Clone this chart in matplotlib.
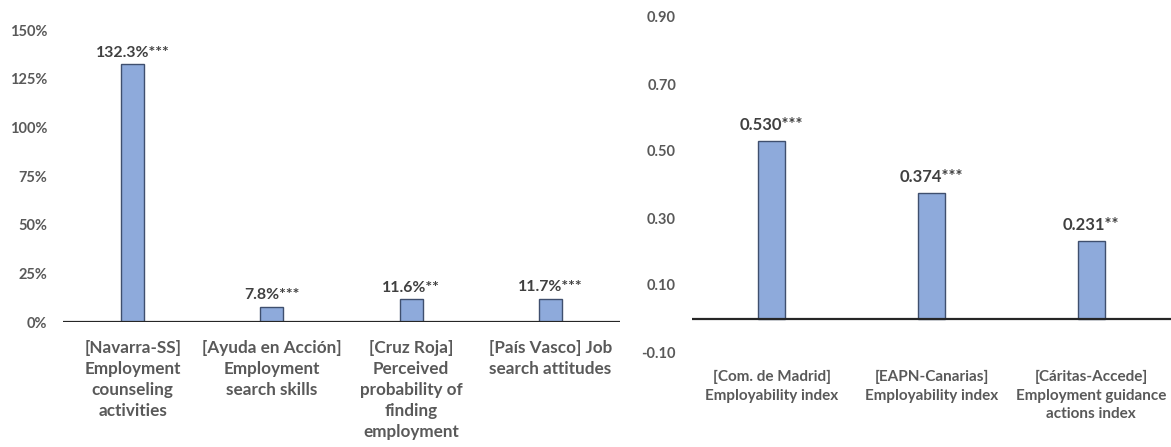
import matplotlib
matplotlib.use("Agg")
import matplotlib.pyplot as plt
import numpy as np

# left panel: percentage effects
left_categories = [
    "[Navarra-SS]\nEmployment\ncounseling\nactivities",
    "[Ayuda en Acción]\nEmployment\nsearch skills",
    "[Cruz Roja]\nPerceived\nprobability of\nfinding\nemployment",
    "[País Vasco] Job\nsearch attitudes",
]
left_values = [132.3, 7.8, 11.6, 11.7]
left_stars = ["***", "***", "**", "***"]
left_ticks = [0, 25, 50, 75, 100, 125, 150]

# right panel: index effects
right_categories = [
    "[Com. de Madrid]\nEmployability index",
    "[EAPN-Canarias]\nEmployability index",
    "[Cáritas-Accede]\nEmployment guidance\nactions index",
]
right_values = [0.530, 0.374, 0.231]
right_stars = ["***", "***", "**"]
right_ticks = [-0.10, 0.10, 0.30, 0.50, 0.70, 0.90]

plt.rcParams["font.family"] = ["Lato", "DejaVu Sans"]
plt.rcParams["font.weight"] = "bold"

BAR_COLOR = "#8eaadb"
EDGE_COLOR = "#3f4f6e"
TEXT_COLOR = "#595959"
LABEL_COLOR = "#404040"
TICK_FS = 10.5

fig = plt.figure(figsize=(11.71, 4.47), dpi=100)

W, H = 1171, 447


def add_axes(x0, x1, y_top, y_bottom):
    return fig.add_axes([x0 / W, (H - y_bottom) / H, (x1 - x0) / W, (y_bottom - y_top) / H])


def style(ax):
    for s in ax.spines.values():
        s.set_visible(False)
    ax.tick_params(axis="both", length=0, colors=TEXT_COLOR)
    ax.tick_params(axis="y", labelsize=TICK_FS, pad=11.5)
    for lab in ax.get_yticklabels() + ax.get_xticklabels():
        lab.set_fontweight("bold")
    ax.axhline(0, color="#262626", linewidth=1.6, zorder=3)


# ==========================================
# LEFT PANEL
# ==========================================

ax1 = add_axes(63, 620, 30, 322)
x = np.arange(len(left_values))
ax1.bar(x, left_values, width=0.165, color=BAR_COLOR, edgecolor=EDGE_COLOR,
        linewidth=1.0, zorder=2)
ax1.set_xlim(-0.5, len(left_values) - 0.5)
ax1.set_ylim(0, 150)
ax1.set_yticks(left_ticks)
ax1.set_yticklabels([f"{t}%" for t in left_ticks])
ax1.set_xticks(x)
ax1.set_xticklabels(left_categories, linespacing=1.38, fontsize=12.3)
ax1.tick_params(axis="x", pad=13)
style(ax1)

for i, v in enumerate(left_values):
    ax1.annotate(f"{v:.1f}%{left_stars[i]}", (i, v), xytext=(0, 3.5),
                 textcoords="offset points", ha="center", va="bottom",
                 fontsize=11.4, fontweight="bold", color=LABEL_COLOR)

# ==========================================
# RIGHT PANEL
# ==========================================

ax2 = add_axes(692, 1171, 17, 352)
x = np.arange(len(right_values))
ax2.bar(x, right_values, width=0.17, color=BAR_COLOR, edgecolor=EDGE_COLOR,
        linewidth=1.0, zorder=2)
ax2.set_xlim(-0.5, len(right_values) - 0.5)
ax2.set_ylim(-0.1, 0.9)
ax2.set_yticks(right_ticks)
ax2.set_yticklabels([f"{t:.2f}" for t in right_ticks])
ax2.set_xticks(x)
ax2.set_xticklabels(right_categories, linespacing=1.4, fontsize=11)
ax2.tick_params(axis="x", pad=13)
style(ax2)

for i, v in enumerate(right_values):
    ax2.annotate(f"{v:.3f}{right_stars[i]}", (i, v), xytext=(0, 6),
                 textcoords="offset points", ha="center", va="bottom",
                 fontsize=12, fontweight="bold", color=LABEL_COLOR)

fig.savefig("out.png", dpi=100)
